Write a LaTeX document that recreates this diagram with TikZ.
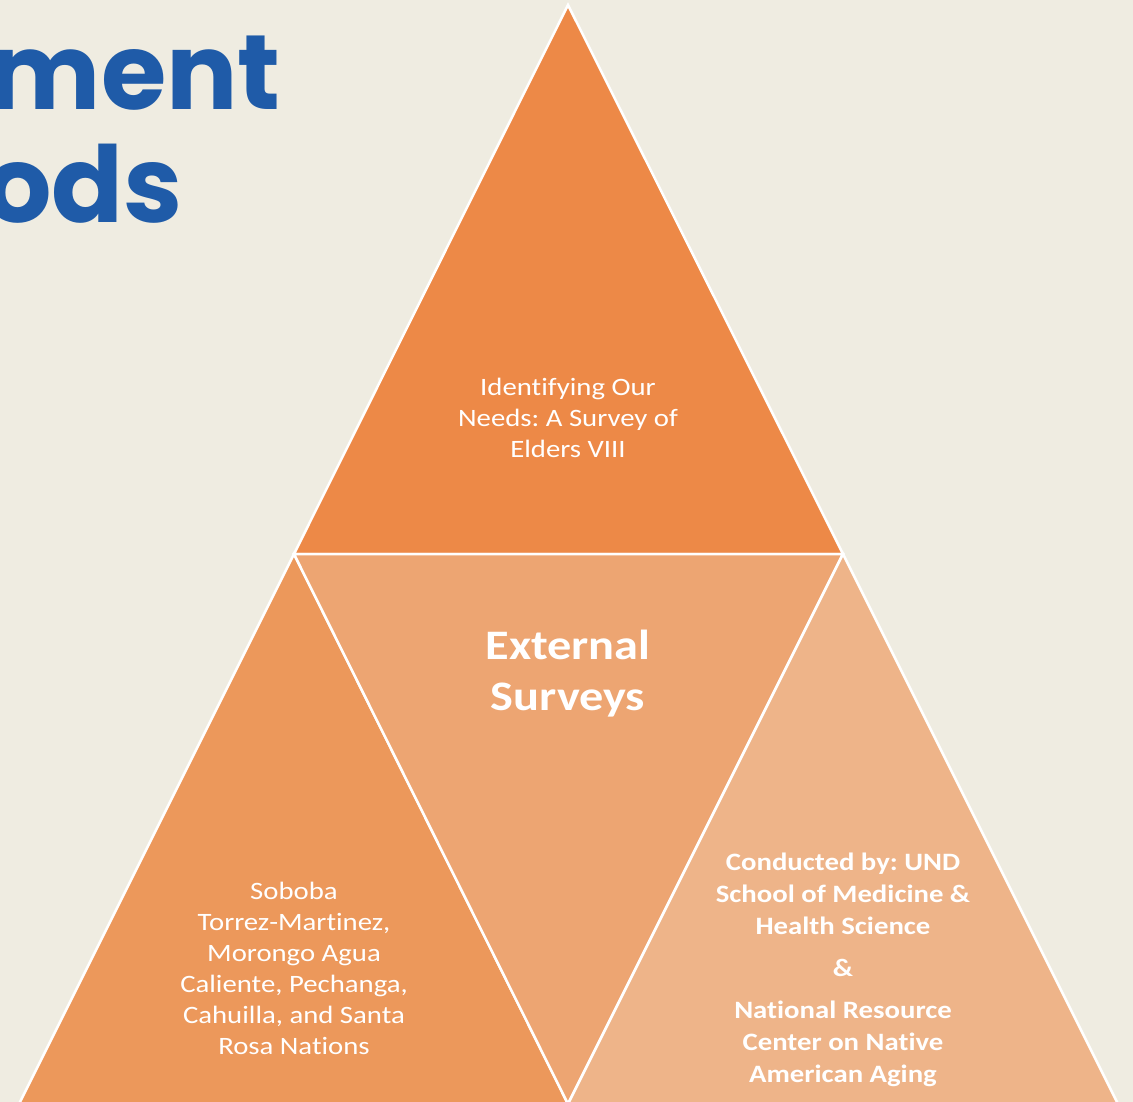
\documentclass[tikz,border=0pt]{standalone}
\usepackage{fontspec}
\setmainfont{Carlito}[FakeStretch=1.15, Ligatures=CommonOff]
\newfontfamily\titlefont{Poppins}
\frenchspacing
\definecolor{slidebg}{HTML}{EFECE1}
\definecolor{titleblue}{HTML}{1F5BA8}
\definecolor{topfill}{HTML}{ED8947}
\definecolor{leftfill}{HTML}{EC985B}
\definecolor{midfill}{HTML}{EDA572}
\definecolor{rightfill}{HTML}{EEB489}
\tikzset{
  piece/.style={draw=white, line width=2.5pt, line join=miter},
  plain/.style={text=white, align=center, inner sep=0pt, font=\fontsize{25}{31}\selectfont},
  strong/.style={plain, font=\fontsize{25}{32}\selectfont\bfseries},
  heading/.style={text=titleblue, inner sep=0pt, anchor=base east, font=\titlefont\bfseries\fontsize{106}{113}\selectfont}
}
\begin{document}
\begin{tikzpicture}[x=1pt,y=-1pt]
  \useasboundingbox (0,0) rectangle (1133,1102);
  \clip (0,0) rectangle (1133,1102);
  \fill[slidebg] (0,0) rectangle (1133,1102);
  % corners of the pyramid
  \coordinate (apex) at (568,5);
  \coordinate (ml) at (294,554);
  \coordinate (mr) at (843,554);
  \coordinate (bl) at (19,1104);
  \coordinate (bm) at (568,1104);
  \coordinate (br) at (1118,1104);
  % the four pieces
  \filldraw[piece, fill=topfill] (apex) -- (mr) -- (ml) -- cycle;
  \filldraw[piece, fill=leftfill] (ml) -- (bm) -- (bl) -- cycle;
  \filldraw[piece, fill=midfill] (ml) -- (mr) -- (bm) -- cycle;
  \filldraw[piece, fill=rightfill] (mr) -- (br) -- (bm) -- cycle;
  % title fragments
  \node[heading] (ttlA) at (281,110) {ment};
  \node[heading] (ttlB) at (183,223) {ods};
  % labels
  \node[plain] (elders) at (568,418) {Identifying Our\\Needs: A Survey of\\Elders VIII};
  \node[plain, font=\fontsize{42}{51}\selectfont\bfseries] (ext) at (568,674) {External\\Surveys};
  \node[plain] (nations) at (294,968) {Soboba\\Torrez-Martinez,\\Morongo Agua\\Caliente, Pechanga,\\Cahuilla, and Santa\\Rosa Nations};
  \node[strong] (und) at (843,970) {Conducted by: UND\\School of Medicine \&\\Health Science\\[10pt]\&\\[10pt]National Resource\\Center on Native\\American Aging};
\end{tikzpicture}
\end{document}
